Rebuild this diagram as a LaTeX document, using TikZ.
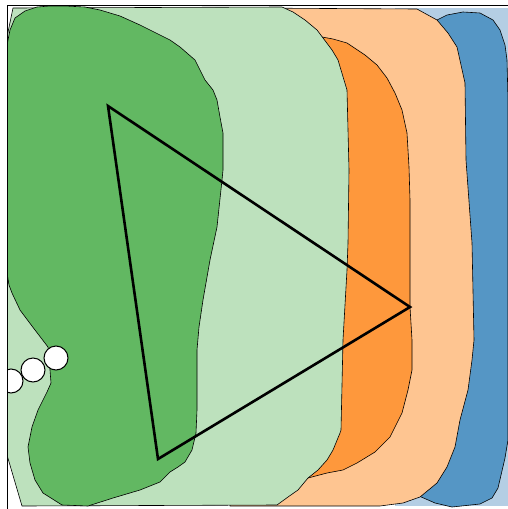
\documentclass[tikz,border=0pt]{standalone}
\usepackage{xcolor}
\usepackage{tikz}
\definecolor{paleblue}{RGB}{180,206,228}
\definecolor{deepblue}{RGB}{85,150,197}
\definecolor{paleorange}{RGB}{254,197,145}
\definecolor{deeporange}{RGB}{254,152,60}
\definecolor{palegreen}{RGB}{189,225,189}
\definecolor{deepgreen}{RGB}{98,184,98}

\begin{document}
\begin{tikzpicture}[x=1pt, y=-1pt, region/.style={draw=black, line width=0.6pt, line join=round}, every node/.style={draw, circle, fill=white, line width=1pt, minimum size=24pt, inner sep=0pt}]
				\useasboundingbox (0,0) rectangle (508,509);
				\begin{scope}
				\clip (7,5) rectangle (508,509);
				\fill[paleblue] (395,8) -- (508,8) -- (508,506) -- (395,506) -- cycle;
				\filldraw[region, fill=deepblue] (437,20) -- (447,15) -- (463,12) -- (480,13) -- (493,20) -- (500,30) -- (505,45) -- (507,60) -- (508,100) -- (508,440) -- (505,458) -- (498,488) -- (492,498) -- (480,504) -- (452,507) -- (435,503) -- (419,496) -- (440,300) -- cycle;
				\filldraw[region, fill=paleorange] (240,8) -- (417,9) -- (437,20) -- (448,33) -- (457,47) -- (465,83) -- (466,160) -- (472,243) -- (474,340) -- (472,360) -- (468,390) -- (460,420) -- (455,447) -- (447,467) -- (437,483) -- (420,497) -- (403,503) -- (380,506) -- (230,506) -- cycle;
				\filldraw[region, fill=deeporange] (322,37) -- (333,39) -- (347,43) -- (353,47) -- (365,55) -- (377,65) -- (387,78) -- (395,93) -- (402,110) -- (407,133) -- (409,167) -- (410,200) -- (410,307) -- (412,340) -- (412,370) -- (408,390) -- (402,413) -- (390,437) -- (375,452) -- (357,463) -- (343,470) -- (327,473) -- (308,478) -- (300,400) -- (310,100) -- cycle;
				\filldraw[region, fill=palegreen] (13,8) -- (282,7) -- (293,12) -- (305,20) -- (317,30) -- (323,38) -- (332,50) -- (338,60) -- (347,90) -- (348,130) -- (349,170) -- (348,243) -- (347,270) -- (343,340) -- (341,430) -- (340,433) -- (333,450) -- (327,460) -- (318,470) -- (308,478) -- (298,490) -- (288,497) -- (277,505) -- (22,506) -- (7,455) -- (7,37) -- cycle;
				% main blob
				\filldraw[region, fill=deepgreen] (7,45) -- (10,30) -- (15,18) -- (25,11) -- (37,7) -- (50,6) -- (65,6) -- (85,7) -- (100,10) -- (120,16) -- (140,25) -- (160,35) -- (170,40) -- (180,47) -- (195,60) -- (205,80) -- (213,90) -- (217,100) -- (220,117) -- (223,133) -- (223,170) -- (222,180) -- (217,227) -- (210,260) -- (203,300) -- (199,327) -- (197,350) -- (197,410) -- (196,433) -- (192,450) -- (185,462) -- (178,467) -- (170,472) -- (160,482) -- (140,490) -- (113,498) -- (88,506) -- (62,505) -- (43,493) -- (35,480) -- (30,463) -- (28,447) -- (32,427) -- (38,410) -- (47,392) -- (51,383) -- (50,370) -- (48,347) -- (35,330) -- (20,310) -- (12,293) -- (9,285) -- (7,273) -- cycle;
				\coordinate (A) at (108,106);
				\coordinate (B) at (410,307);
				\coordinate (C) at (158,459);
				\draw[line width=2.6pt, line join=miter] (A) -- (B) -- (C) -- cycle;
				\node (c1) at (56,358) {};
				\node (c2) at (33,370) {};
				\node (c3) at (11,381) {};
				\end{scope}
				\draw[line width=1pt] (7,509) -- (7,5) -- (508,5);
			\end{tikzpicture}
\end{document}
